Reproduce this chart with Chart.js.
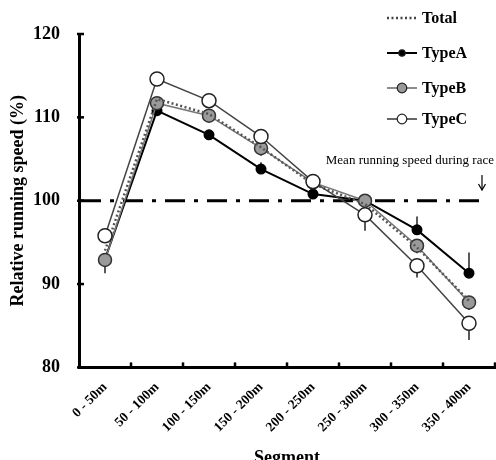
<!DOCTYPE html>
<html>
<head>
<meta charset="utf-8">
<script src="https://cdn.jsdelivr.net/npm/chart.js@4/dist/chart.umd.min.js"></script>
<style>
html, body { margin: 0; background: #fff; overflow: hidden; }
#wrap { width: 496px; height: 460px; }
</style>
</head>
<body>
<div id="wrap"><canvas id="speedChart"></canvas></div>
<script>
const segments = ['0 - 50m', '50 - 100m', '100 - 150m', '150 - 200m', '200 - 250m', '250 - 300m', '300 - 350m', '350 - 400m'];
const total = [94.0, 112.2, 110.4, 106.4, 102.0, 99.6, 94.4, 88.0];
const typeA = [93.0, 110.8, 107.9, 103.8, 100.8, 100.0, 96.5, 91.3];
const typeB = [92.9, 111.7, 110.2, 106.3, 102.2, 100.0, 94.6, 87.8];
const typeC = [95.8, 114.6, 112.0, 107.7, 102.3, 98.3, 92.2, 85.3];
// error bars: A drawn upward, B and C downward
const errA = [0.6, 0.6, 0.6, 0.8, 0.6, 0.6, 1.6, 2.5];
const errB = [1.6, 0.6, 0.8, 0.9, 0.6, 0.8, 0.9, 0.9];
const errC = [0.8, 0.6, 0.6, 0.6, 0.6, 1.9, 1.4, 2.0];
const meanSpeed = 100;

const serif = '"Liberation Serif", "Times New Roman", serif';

const extras = {
    id: 'extras',
    beforeDatasetsDraw(chart) {
        const ctx = chart.ctx;
        const x = chart.scales.x, y = chart.scales.y;
        const area = chart.chartArea;
        ctx.save();
        // mean speed line
        const yy = y.getPixelForValue(meanSpeed);
        ctx.strokeStyle = '#000';
        ctx.lineWidth = 3;
        ctx.setLineDash([20, 9, 4, 9]);
        ctx.beginPath();
        ctx.moveTo(area.left + 2, yy);
        ctx.lineTo(area.right - 10, yy);
        ctx.stroke();
        ctx.setLineDash([]);

        // error bars
        ctx.lineWidth = 1.5;
        ctx.strokeStyle = '#222';
        const bars = [[typeA, errA, -1], [typeB, errB, 1], [typeC, errC, 1]];
        bars.forEach(([vals, errs, dir]) => {
            vals.forEach((v, i) => {
                const px = x.getPixelForValue(i);
                ctx.beginPath();
                ctx.moveTo(px, y.getPixelForValue(v));
                ctx.lineTo(px, y.getPixelForValue(v - dir * errs[i]));
                ctx.stroke();
            });
        });
        ctx.restore();
    },
    afterDraw(chart) {
        const ctx = chart.ctx;
        const x = chart.scales.x, y = chart.scales.y;
        const area = chart.chartArea;
        ctx.save();
        // inward ticks
        ctx.strokeStyle = '#000';
        ctx.lineWidth = 2.5;
        const half = (x.getPixelForValue(1) - x.getPixelForValue(0)) / 2;
        segments.forEach((s, i) => {
            const px = x.getPixelForValue(i) + half;
            ctx.beginPath();
            ctx.moveTo(px, area.bottom);
            ctx.lineTo(px, area.bottom - 5);
            ctx.stroke();
        });
        y.ticks.forEach(t => {
            const py = y.getPixelForValue(t.value);
            ctx.beginPath();
            ctx.moveTo(area.left - 2, py);
            ctx.lineTo(area.left + 5, py);
            ctx.stroke();
        });

        // annotation
        ctx.fillStyle = '#000';
        ctx.font = '13px ' + serif;
        ctx.textAlign = 'right';
        ctx.textBaseline = 'middle';
        ctx.fillText('Mean running speed during race', 494, 161);
        ctx.lineWidth = 1.2;
        ctx.beginPath();
        ctx.moveTo(482, 175);
        ctx.lineTo(482, 190);
        ctx.stroke();
        ctx.beginPath();
        ctx.moveTo(478.5, 184);
        ctx.lineTo(482, 190);
        ctx.lineTo(485.5, 184);
        ctx.stroke();

        // legend
        const items = [
            { label: 'Total', y: 18, color: '#444', dash: [2, 2.5], width: 2.5, r: 0 },
            { label: 'TypeA', y: 53, color: '#000', dash: [], width: 2, r: 3.2, fill: '#000' },
            { label: 'TypeB', y: 88, color: '#666', dash: [], width: 1.5, r: 4.8, fill: '#999' },
            { label: 'TypeC', y: 119, color: '#333', dash: [], width: 1.5, r: 4.8, fill: '#fff' }
        ];
        items.forEach(it => {
            ctx.strokeStyle = it.color;
            ctx.lineWidth = it.width;
            ctx.setLineDash(it.dash);
            ctx.beginPath();
            ctx.moveTo(387, it.y);
            ctx.lineTo(417, it.y);
            ctx.stroke();
            ctx.setLineDash([]);
            if (it.r) {
                ctx.beginPath();
                ctx.arc(402, it.y, it.r, 0, Math.PI * 2);
                ctx.fillStyle = it.fill;
                ctx.fill();
                ctx.strokeStyle = '#222';
                ctx.lineWidth = 1.2;
                ctx.stroke();
            }
            ctx.fillStyle = '#000';
            ctx.font = 'bold 16px ' + serif;
            ctx.textAlign = 'left';
            ctx.fillText(it.label, 422, it.y + 1);
        });
        ctx.restore();
    }
};

new Chart(document.getElementById('speedChart'), {
    type: 'line',
    data: {
        labels: segments,
        datasets: [
            {
                label: 'TypeA',
                data: typeA,
                borderColor: '#000',
                borderWidth: 2,
                pointRadius: 4.5,
                pointBackgroundColor: '#000',
                pointBorderColor: '#000',
                order: 4
            },
            {
                label: 'TypeB',
                data: typeB,
                borderColor: '#777',
                borderWidth: 1.5,
                pointRadius: 6.5,
                pointBorderWidth: 1.5,
                pointBackgroundColor: '#9a9a9a',
                pointBorderColor: '#333',
                order: 3
            },
            {
                label: 'Total',
                data: total,
                borderColor: '#555',
                borderWidth: 2.5,
                borderDash: [2, 2.5],
                pointRadius: 0,
                order: 2
            },
            {
                label: 'TypeC',
                data: typeC,
                borderColor: '#444',
                borderWidth: 1.5,
                pointRadius: 7,
                pointBorderWidth: 1.5,
                pointBackgroundColor: '#fff',
                pointBorderColor: '#222',
                order: 1
            }
        ]
    },
    options: {
        responsive: true,
        maintainAspectRatio: false,
        animation: false,
        layout: { autoPadding: false, padding: { top: 34, right: 1, left: 0, bottom: -9 } },
        plugins: {
            legend: { display: false },
            tooltip: { enabled: false }
        },
        scales: {
            x: {
                offset: true,
                grid: { display: false, drawTicks: false },
                border: { color: '#000', width: 3 },
                afterFit(scale) {
                    scale.paddingLeft = 0;
                    scale.paddingRight = 0;
                },
                ticks: {
                    color: '#000',
                    font: { family: serif, size: 13.5, weight: 'bold' },
                    minRotation: 45,
                    maxRotation: 45,
                    padding: 12
                },
                title: {
                    display: true,
                    text: 'Segment',
                    color: '#000',
                    font: { family: serif, size: 18, weight: 'bold' },
                    padding: { top: 0, bottom: 0 }
                }
            },
            y: {
                min: 80,
                max: 120,
                grid: { display: false, drawTicks: false },
                border: { color: '#000', width: 3 },
                afterFit(scale) {
                    scale.width = 79;
                },
                ticks: {
                    stepSize: 10,
                    color: '#000',
                    font: { family: serif, size: 18, weight: 'bold' },
                    padding: 19
                },
                title: {
                    display: true,
                    text: 'Relative running speed (%)',
                    color: '#000',
                    font: { family: serif, size: 18, weight: 'bold' },
                    padding: { top: 8, bottom: 0 }
                }
            }
        }
    },
    plugins: [extras]
});
</script>
</body>
</html>
